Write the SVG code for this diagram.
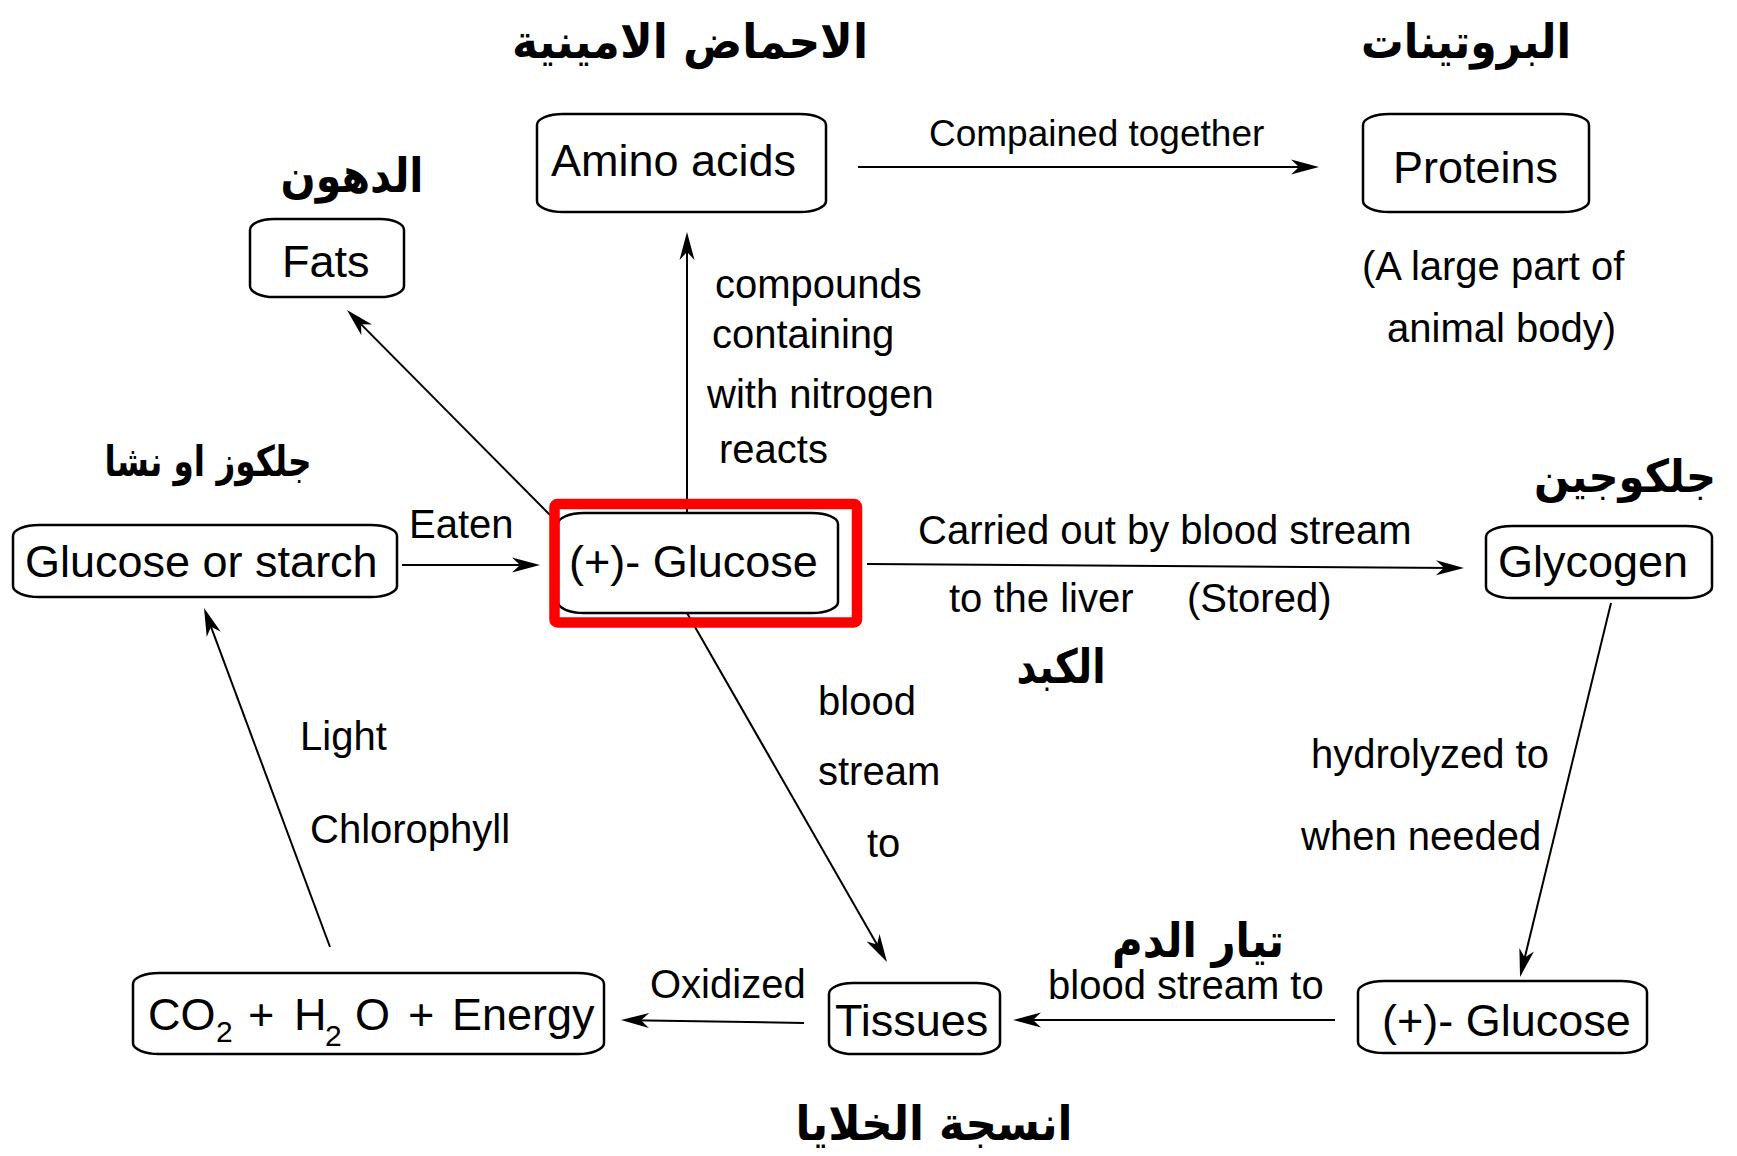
<svg xmlns="http://www.w3.org/2000/svg" width="1737" height="1156" viewBox="0 0 1737 1156">
<style>
.box{fill:#fff;stroke:#000;stroke-width:2.5}
.bt{font-family:"Liberation Sans",Arial,sans-serif;font-size:45px;fill:#000}
.lb{font-family:"Liberation Sans",Arial,sans-serif;font-size:40px;fill:#000}
.ar{font-family:"DejaVu Sans",sans-serif;font-weight:bold;font-size:47px;fill:#000;text-anchor:middle}
.cn line{stroke:#000;stroke-width:2;marker-end:url(#ah)}
</style>
<defs>
<marker id="ah" viewBox="-29 -10 31 20" markerWidth="31" markerHeight="20" refX="-10" refY="0" orient="auto" markerUnits="userSpaceOnUse">
<path d="M0,0 L-28,-7.5 L-20,0 L-28,7.5 Z" fill="#000"/>
</marker>
</defs>
<rect width="1737" height="1156" fill="#fff"/>

<g id="connectors" class="cn">
<line x1="550" y1="515" x2="354" y2="317.1"/>
<line x1="687" y1="513" x2="687" y2="242"/>
<line x1="858" y1="167" x2="1309" y2="167"/>
<line x1="402" y1="565" x2="530" y2="565"/>
<line x1="867" y1="564" x2="1454" y2="567.9"/>
<line x1="1611" y1="603" x2="1522.4" y2="967.3"/>
<line x1="687" y1="613" x2="882" y2="953.3"/>
<line x1="1335" y1="1020" x2="1023" y2="1020"/>
<line x1="804" y1="1023" x2="631" y2="1020.2"/>
<line x1="330" y1="947" x2="207.5" y2="617.4"/>
</g>

<g id="labels">
<text class="lb" x="929" y="146" style="font-size:37px">Compained together</text>
<text class="lb" x="715" y="298">compounds</text>
<text class="lb" x="712" y="348">containing</text>
<text class="lb" x="707" y="408">with nitrogen</text>
<text class="lb" x="719" y="463">reacts</text>
<text class="lb" x="1362" y="280">(A large part of</text>
<text class="lb" x="1387" y="342">animal body)</text>
<text class="lb" x="409" y="538">Eaten</text>
<text class="lb" x="918" y="544">Carried out by blood stream</text>
<text class="lb" x="949" y="612">to the liver</text>
<text class="lb" x="1187" y="612">(Stored)</text>
<text class="lb" x="1311" y="768">hydrolyzed to</text>
<text class="lb" x="1301" y="850">when needed</text>
<text class="lb" x="818" y="715">blood</text>
<text class="lb" x="818" y="785">stream</text>
<text class="lb" x="867" y="857">to</text>
<text class="lb" x="300" y="750">Light</text>
<text class="lb" x="310" y="843">Chlorophyll</text>
<text class="lb" x="650" y="998">Oxidized</text>
<text class="lb" x="1048" y="999">blood stream to</text>
</g>

<g id="arabic">
<text class="ar" x="690" y="58" textLength="356" lengthAdjust="spacingAndGlyphs">الاحماض الامينية</text>
<text class="ar" x="1466" y="58" textLength="210" lengthAdjust="spacingAndGlyphs">البروتينات</text>
<text class="ar" x="352" y="192" textLength="143" lengthAdjust="spacingAndGlyphs">الدهون</text>
<text class="ar" x="208" y="476" textLength="207" lengthAdjust="spacingAndGlyphs" style="font-size:42px">جلكوز او نشا</text>
<text class="ar" x="1625" y="492" textLength="182" lengthAdjust="spacingAndGlyphs" style="font-size:45px">جلكوجين</text>
<text class="ar" x="1061" y="683" textLength="89" lengthAdjust="spacingAndGlyphs">الكبد</text>
<text class="ar" x="1198" y="957" textLength="172" lengthAdjust="spacingAndGlyphs">تيار الدم</text>
<text class="ar" x="934" y="1140" textLength="277" lengthAdjust="spacingAndGlyphs">انسجة الخلايا</text>
</g>

<g id="fats"><rect class="box" x="250" y="219" width="154" height="78" rx="24" ry="11"/><text class="bt" x="282" y="277">Fats</text></g>
<g id="amino"><rect class="box" x="537" y="114" width="289" height="98" rx="26" ry="11"/><text class="bt" x="551" y="176">Amino acids</text></g>
<g id="proteins"><rect class="box" x="1363" y="114" width="226" height="98" rx="26" ry="11"/><text class="bt" x="1393" y="183">Proteins</text></g>
<g id="starch"><rect class="box" x="13" y="525" width="384" height="72" rx="26" ry="11"/><text class="bt" x="25" y="577">Glucose or starch</text></g>
<g id="glucose"><rect class="box" x="558" y="513" width="280" height="100" rx="26" ry="11"/><text class="bt" x="569" y="577">(+)- Glucose</text>
<rect x="554.5" y="504" width="302.5" height="118.5" rx="3" fill="none" stroke="#ff0000" stroke-width="10.5"/></g>
<g id="glycogen"><rect class="box" x="1486" y="526" width="226" height="72" rx="26" ry="11"/><text class="bt" x="1498" y="577">Glycogen</text></g>
<g id="tissues"><rect class="box" x="829" y="983" width="171" height="71" rx="24" ry="11"/><text class="bt" x="835" y="1036">Tissues</text></g>
<g id="glucose2"><rect class="box" x="1358" y="981" width="289" height="72" rx="26" ry="11"/><text class="bt" x="1382" y="1036">(+)- Glucose</text></g>
<g id="products"><rect class="box" x="133" y="973" width="471" height="81" rx="26" ry="11"/>
<text class="bt" x="148" y="1030">CO</text>
<text class="bt" x="216" y="1042" style="font-size:30px">2</text>
<text class="bt" x="248" y="1030">+</text>
<text class="bt" x="294" y="1030">H</text>
<text class="bt" x="325" y="1046" style="font-size:30px">2</text>
<text class="bt" x="355" y="1030">O</text>
<text class="bt" x="408" y="1030">+</text>
<text class="bt" x="452" y="1030">Energy</text>
</g>
</svg>
